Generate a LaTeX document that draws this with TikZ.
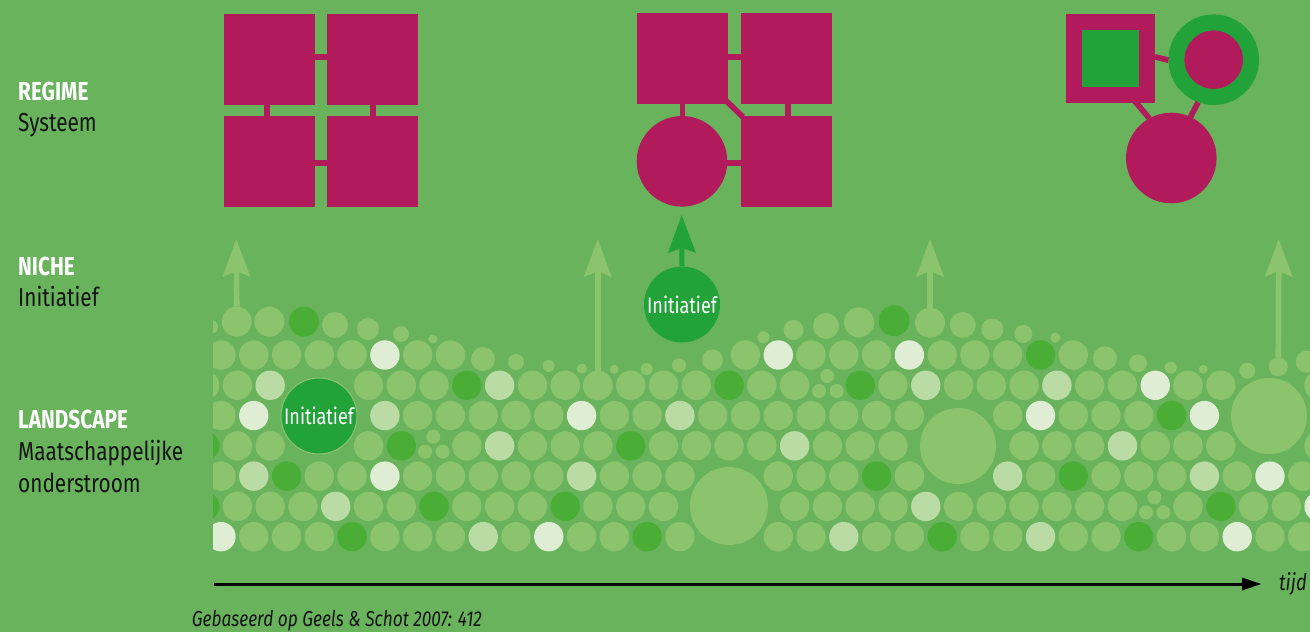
\documentclass[tikz,border=0pt]{standalone}
\usepackage{fontspec}
\setmainfont{Fira Sans}[FakeStretch=0.8]
\usetikzlibrary{arrows.meta}
\definecolor{bg}{HTML}{69B35D}
\definecolor{dotm}{HTML}{8CC36D}
\definecolor{dotl}{HTML}{BBDBA5}
\definecolor{dotw}{HTML}{DEEDD4}
\definecolor{dotd}{HTML}{4AAE36}
\definecolor{ig}{HTML}{21A33A}
\definecolor{mag}{HTML}{B11A5B}
\definecolor{txt}{HTML}{141414}
\newcommand\fieldrow[3]{%
  \foreach \k [count=\i from 0] in {#3} {%
    \if\k x\else
      \pgfmathsetmacro\fcx{221+16.39*(#2+2*\i)}%
      \fill[fill=dot\k] (\fcx,{355+30.28*#1}) circle[radius=14.7];
    \fi
  }}
\begin{document}
\begin{tikzpicture}[x=1pt,y=-1pt,
  sqbox/.style={rectangle,fill=mag,minimum size=91pt,inner sep=0pt,outer sep=0pt},
  rcirc/.style={circle,fill=mag,minimum size=90.6pt,inner sep=0pt,outer sep=0pt},
  conn/.style={draw=mag,line width=5.7pt},
  init/.style={circle,fill=ig,minimum size=76pt,inner sep=0pt,text=white,font=\fontsize{22.5}{26}\selectfont},
  src/.style={circle,fill=dotm,inner sep=0pt,outer sep=0pt},
  palearrow/.style={draw=dotm,line width=5.7pt,-{Stealth[length=38pt,width=28pt,inset=6pt,line width=0pt]}},
  darkarrow/.style={draw=ig,line width=5pt,-{Stealth[length=38pt,width=28pt,inset=5pt,line width=0pt]}},
  head/.style={anchor=base west,inner sep=0pt,text=white,font=\fontsize{26}{30}\selectfont\bfseries},
  sub/.style={anchor=base west,inner sep=0pt,text=txt,font=\fontsize{26}{30}\selectfont},
  it/.style={anchor=base west,inner sep=0pt,text=txt,font=\fontsize{21.6}{24}\selectfont\itshape}]
\useasboundingbox (0,0) rectangle (1310,632);
\fill[bg] (0,0) rectangle (1310,632);

% ---------- landscape field ----------
\begin{scope}
\clip (213,0) rectangle (1310,632);
\fieldrow{0}{0}{m,m,m,m,m,w,m,m,x,x,x,x,x,x,x,x,m,w,m,m,m,w,m,m,m,d,m,x,x,x,x,x,x,x}
\fieldrow{1}{-1}{m,m,l,x,x,m,m,m,d,l,m,m,m,m,m,m,d,m,m,x,d,m,l,m,m,m,l,m,m,w,m,m,x,x,m}
\fieldrow{2}{0}{m,w,x,x,x,l,m,m,m,m,m,w,m,m,l,m,m,m,m,m,m,m,x,x,m,w,m,m,m,d,w,x,x,x}
\fieldrow{3}{-1}{d,m,m,x,x,m,d,x,m,l,m,m,m,d,m,m,m,m,l,m,m,m,x,x,x,m,m,m,l,m,m,m,x,x,m}
\fieldrow{4}{0}{m,l,d,m,m,w,m,m,m,m,m,l,m,m,m,x,x,m,m,m,d,m,x,x,l,m,d,m,m,m,l,m,w,m}
\fieldrow{5}{-1}{d,m,m,m,l,m,m,d,m,m,m,d,m,m,m,x,x,x,m,m,m,m,l,m,m,m,m,m,m,x,m,d,m,m,w}
\fieldrow{6}{0}{w,m,m,m,d,m,m,m,l,m,w,m,m,d,m,x,x,m,m,l,m,m,d,m,m,l,m,m,d,m,m,w,m,m}
% irregular upper edge, clusters and large circles
\foreach \x/\y/\r/\c in {
  211/327/7/m, 269.3/321.7/15/m, 304/321.7/15/d, 335/325/13/m, 368/329/11/m,
  401/334/8/m, 433/339/4.5/m,
  483/359/12/m, 516/362/8/m, 548.5/366/6/m, 582/368.5/5/m, 614.3/369.3/4.5/m,
  646.7/369/6/m, 679/365.3/7/m, 712.3/360/10.5/m,
  763.3/337.3/6/m, 793.5/330/10/m, 826/326/13/m, 859/322.3/15/m, 894/320.7/15.5/d,
  962.7/325/13/m, 992.3/329.3/11/m, 1023.3/334/9/m, 1055.3/337.7/5/m,
  1105/358.3/12/m, 1138/363.3/9/m, 1170.7/367.7/6/m, 1203.3/369.3/4.5/m,
  1247.3/370.7/8/m, 1306.7/361.7/11/m,
  433.3/436.7/7/m, 425/451.7/7/m, 442.7/451.7/7/m,
  827.3/376/7/m, 819/391/7/m, 836.7/391/7/m,
  1154.3/497.3/7/m, 1146/512.3/7/m, 1163.3/512.3/7/m,
  729/506/39/m, 958/446/38/m, 1269/416/38/m}
  {\fill[fill=dot\c] (\x,\y) circle[radius=\r];}
\end{scope}

% arrow source circles
\node[src,minimum size=30pt] (s1) at (236.7,321.7) {};
\node[src,minimum size=29.4pt] (s2) at (597.7,385.7) {};
\node[src,minimum size=30pt] (s3) at (930,322.7) {};
\node[src,minimum size=19pt] (s4) at (1278.3,366.7) {};
\coordinate (t1) at (236.2,239);
\coordinate (t2) at (597.7,239);
\coordinate (t3) at (930,239);
\coordinate (t4) at (1278.8,239);
\draw[palearrow] (s1.north) -- (t1);
\draw[palearrow] (s2.north) -- (t2);
\draw[palearrow] (s3.north) -- (t3);
\draw[palearrow] (s4.north) -- (t4);

% initiatives
\node[init,draw=dotm,line width=1pt] (i1) at (319,416) {Initiatief};
\node[init] (i2) at (682,304.5) {Initiatief};

% ---------- regime 1 ----------
\node[sqbox] (a1) at (269.5,59.5) {};
\node[sqbox] (b1) at (372.7,59.5) {};
\node[sqbox] (c1) at (269.5,161.3) {};
\node[sqbox] (d1) at (372.7,161.3) {};
\draw[conn] ([yshift=2.5pt]a1.east) -- ([yshift=2.5pt]b1.west);
\draw[conn] ([yshift=-1.7pt]c1.east) -- ([yshift=-1.7pt]d1.west);
\draw[conn] ([xshift=-2.5pt]a1.south) -- ([xshift=-2.5pt]c1.north);
\draw[conn] ([xshift=0.6pt]b1.south) -- ([xshift=0.6pt]d1.north);

% ---------- regime 2 ----------
\node[sqbox] (a2) at (682,58.7) {};
\node[sqbox] (b2) at (786.3,58.7) {};
\node[rcirc] (c2) at (682,161.3) {};
\node[sqbox] (d2) at (786.3,161.3) {};
\draw[conn] ([yshift=1.7pt]a2.east) -- ([yshift=1.7pt]b2.west);
\draw[conn] ([xshift=0.5pt]a2.south) -- ([xshift=0.5pt]c2.north);
\draw[conn] ([xshift=2pt]b2.south) -- ([xshift=2pt]d2.north);
\draw[conn] ([yshift=-1.7pt]c2.east) -- ([yshift=-1.7pt]d2.west);
\draw[conn] ([shift={(-1pt,3pt)}]a2.south east) -- ([shift={(2pt,-1pt)}]d2.north west);
\coordinate (tin) at (681.7,215);
\draw[darkarrow] (i2.north) -- (tin);

% ---------- regime 3 ----------
\node[sqbox,minimum size=89.3pt] (a3) at (1110.3,58.8) {};
\node[rectangle,fill=ig,minimum size=57pt,inner sep=0pt] (a3in) at (1110.3,58.7) {};
\node[circle,fill=mag,draw=ig,line width=16pt,minimum size=74.6pt,inner sep=0pt] (b3) at (1213.7,59.7) {};
\node[rcirc] (c3) at (1171.3,158) {};
\draw[conn] ([yshift=2pt]a3.east) -- ([yshift=-0.5pt]b3.west);
\draw[conn] ([xshift=24.7pt,yshift=2pt]a3.south) -- (c3.119);
\draw[conn] (b3.250) -- (c3.65);

% ---------- labels ----------
\node[head] (lr) at (18,100) {REGIME};
\node[sub] (ls) at (18,131.7) {Systeem};
\node[head] (ln) at (18,275) {NICHE};
\node[sub] (li) at (18,306.7) {Initiatief};
\node[head] (ll) at (18,428) {LANDSCAPE};
\node[sub] (lm) at (18,460) {Maatschappelijke};
\node[sub] (lo) at (18,492) {onderstroom};

% ---------- time axis ----------
\coordinate (ax0) at (214,584);
\coordinate (ax1) at (1261,584);
\draw[line width=3pt,-{Triangle[length=19pt,width=13pt,line width=0pt]}] (ax0) -- (ax1);
\node[it,font=\fontsize{23}{26}\selectfont\itshape] (tijd) at (1279,590) {tijd};
\node[it] (cap) at (191.7,626.7) {Gebaseerd op Geels \& Schot 2007: 412};
\end{tikzpicture}
\end{document}
